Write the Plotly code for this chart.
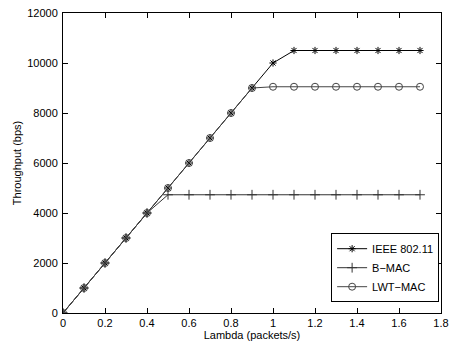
import plotly.graph_objects as go

lam = [0, 0.1, 0.2, 0.3, 0.4, 0.5, 0.6, 0.7, 0.8, 0.9, 1.0, 1.1, 1.2, 1.3, 1.4, 1.5, 1.6, 1.7]
ieee = [0, 1000, 2000, 3000, 4000, 5000, 6000, 7000, 8000, 9000, 10000, 10500, 10500, 10500, 10500, 10500, 10500, 10500]
bmac = [0, 1000, 2000, 3000, 4000, 4730, 4730, 4730, 4730, 4730, 4730, 4730, 4730, 4730, 4730, 4730, 4730, 4730]
lwt = [0, 1000, 2000, 3000, 4000, 5000, 6000, 7000, 8000, 9000, 9050, 9050, 9050, 9050, 9050, 9050, 9050, 9050]

fig = go.Figure()
fig.add_trace(go.Scatter(x=lam, y=ieee, name="IEEE 802.11", mode="lines+markers",
                         line=dict(color="black", width=1),
                         marker=dict(symbol="asterisk-open", size=6, color="black", line=dict(width=1, color="black"))))
fig.add_trace(go.Scatter(x=lam, y=bmac, name="B\u2212MAC", mode="lines+markers",
                         line=dict(color="#333333", width=1),
                         marker=dict(symbol="cross-thin-open", size=7, color="#333333", line=dict(width=1, color="#333333"))))
fig.add_trace(go.Scatter(x=lam, y=lwt, name="LWT\u2212MAC", mode="lines+markers",
                         line=dict(color="#444444", width=1),
                         marker=dict(symbol="circle-open", size=7, color="#444444", line=dict(width=1, color="#444444"))))

axis_common = dict(showline=True, linecolor="black", linewidth=1, mirror="allticks",
                   ticks="inside", ticklen=5, tickcolor="black", showgrid=False, zeroline=False,
                   tickfont=dict(family="Liberation Sans, Arial", size=11, color="black"))
fig.update_layout(
    width=456, height=344,
    margin=dict(l=63, r=7, t=11, b=30),
    plot_bgcolor="white", paper_bgcolor="white",
    font=dict(family="Liberation Sans, Arial", size=11, color="black"),
    xaxis=dict(range=[0, 1.8], dtick=0.2, tick0=0, ticklabelstandoff=0,
               title=dict(text="Lambda (packets/s)", standoff=0, font=dict(size=11)), **axis_common),
    yaxis=dict(range=[0, 12000], dtick=2000, tick0=0, tickformat="d", ticklabelstandoff=2,
               title=dict(text="Throughput (bps)", standoff=3, font=dict(size=11)), **axis_common),
    legend=dict(x=0.995, y=0.036, xanchor="right", yanchor="bottom",
                bordercolor="black", borderwidth=1, bgcolor="white",
                font=dict(size=11), tracegroupgap=0, itemwidth=30),
    showlegend=True,
)
fig.write_html("out.html")
